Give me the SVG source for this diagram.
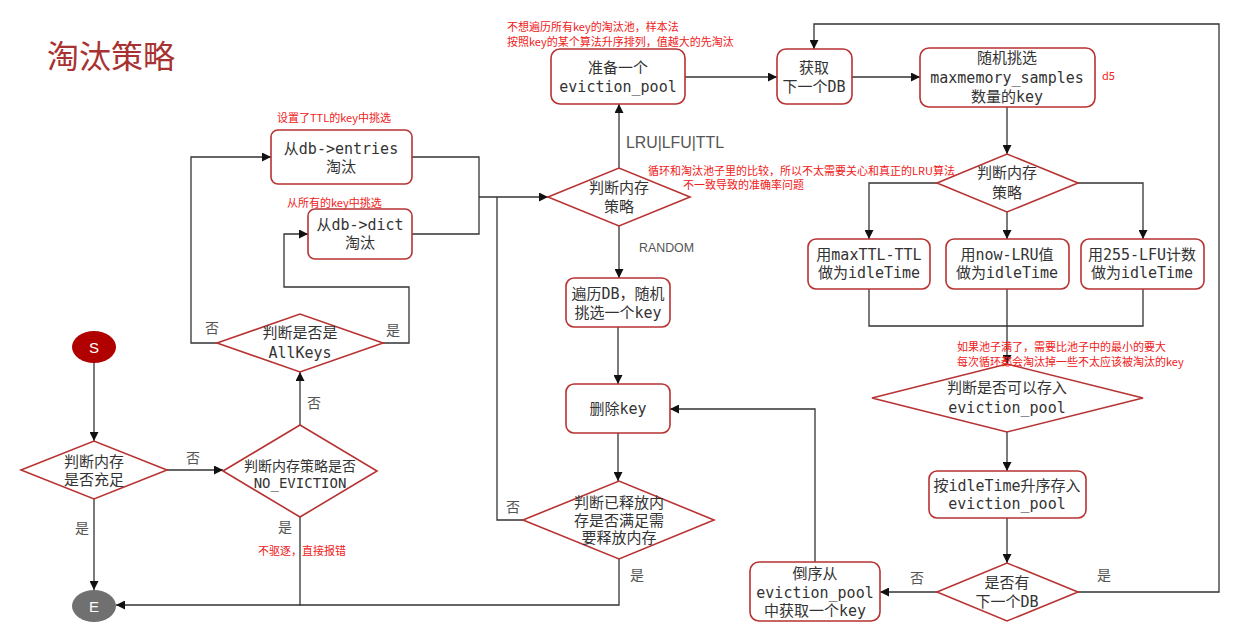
<svg xmlns="http://www.w3.org/2000/svg" width="1248" height="630" viewBox="0 0 1248 630">
<style>
.nd{fill:#fff;stroke:#b83232;stroke-width:1.6}
.t{font-family:"DejaVu Sans Mono","Noto Sans CJK SC",monospace;font-size:15px;fill:#333;text-anchor:middle;dominant-baseline:central}
.ts{font-size:14px}
.ln{fill:none;stroke:#333;stroke-width:1.3}
.lb{font-family:"Noto Sans CJK SC",sans-serif;font-size:14px;fill:#555;text-anchor:middle;dominant-baseline:central}
.el{font-family:"Liberation Sans",sans-serif;fill:#555;dominant-baseline:central}
.an{font-family:"Noto Sans CJK SC",sans-serif;font-size:11px;fill:#f02020}
</style>
<defs>
<marker id="ar" viewBox="0 0 10 10" refX="10" refY="5" markerWidth="9" markerHeight="9" markerUnits="userSpaceOnUse" orient="auto"><path d="M0,0L10,5L0,10z" fill="#111"/></marker>
</defs>
<rect width="1248" height="630" fill="#fff"/>
<text x="47" y="68" font-family="Noto Sans CJK SC,sans-serif" font-size="32" fill="#a83232">淘汰策略</text>

<g id="connectors" class="ln">
<path d="M94,363V441" marker-end="url(#ar)"/>
<path d="M167,470H223" marker-end="url(#ar)"/>
<path d="M94,499V590" marker-end="url(#ar)"/>
<path d="M300,425V372" marker-end="url(#ar)"/>
<path d="M300,517V605H116" marker-end="url(#ar)"/>
<path d="M217,343H191V157H271" marker-end="url(#ar)"/>
<path d="M383,343H409V287H284V234H308" marker-end="url(#ar)"/>
<path d="M412,157H479V234H412"/>
<path d="M479,197H548" marker-end="url(#ar)"/>
<path d="M619,168V104" marker-end="url(#ar)"/>
<path d="M619,226V278" marker-end="url(#ar)"/>
<path d="M618,327V384" marker-end="url(#ar)"/>
<path d="M618,433V481" marker-end="url(#ar)"/>
<path d="M523,520H497V197"/>
<path d="M619,559V605H300"/>
<path d="M685,77H777" marker-end="url(#ar)"/>
<path d="M852,77H920" marker-end="url(#ar)"/>
<path d="M1007,107V154" marker-end="url(#ar)"/>
<path d="M937,183H869V239" marker-end="url(#ar)"/>
<path d="M1078,183H1143V239" marker-end="url(#ar)"/>
<path d="M1007,212V239" marker-end="url(#ar)"/>
<path d="M869,289V326H1143V289"/>
<path d="M1007,289V364" marker-end="url(#ar)"/>
<path d="M1007,432V471" marker-end="url(#ar)"/>
<path d="M1007,518V563" marker-end="url(#ar)"/>
<path d="M937,592H880" marker-end="url(#ar)"/>
<path d="M1078,592H1219V24H814V49" marker-end="url(#ar)"/>
<path d="M815,562V409H670" marker-end="url(#ar)"/>
</g>

<g id="S"><ellipse cx="94" cy="347" rx="22" ry="16" fill="#b00000"/><text x="94" y="347" font-family="Liberation Sans,sans-serif" font-size="15" fill="#fff" text-anchor="middle" dominant-baseline="central">S</text></g>
<g id="E"><ellipse cx="94" cy="606" rx="22" ry="16" fill="#707070"/><text x="94" y="606" font-family="Liberation Sans,sans-serif" font-size="15" fill="#fff" text-anchor="middle" dominant-baseline="central">E</text></g>

<g id="d-mem-enough"><path class="nd" d="M21,470L94,441L167,470L94,499Z"/><text class="t" x="94" y="462">判断内存</text><text class="t" x="94" y="480">是否充足</text></g>
<g id="d-noevict"><path class="nd" d="M223,471L300,425L377,471L300,517Z"/><text class="t ts" x="300" y="466">判断内存策略是否</text><text class="t ts" x="300" y="483">NO_EVICTION</text></g>
<g id="d-allkeys"><path class="nd" d="M217,343L300,314L383,343L300,372Z"/><text class="t" x="300" y="333">判断是否是</text><text class="t" x="300" y="353">AllKeys</text></g>
<g id="b-entries"><rect class="nd" x="271" y="130" width="141" height="54" rx="7"/><text class="t" x="341" y="149">从db-&gt;entries</text><text class="t" x="341" y="167">淘汰</text></g>
<g id="b-dict"><rect class="nd" x="308" y="209" width="104" height="50" rx="7"/><text class="t" x="360" y="225">从db-&gt;dict</text><text class="t" x="360" y="243">淘汰</text></g>
<g id="d-policy"><path class="nd" d="M548,197L619,168L690,197L619,226Z"/><text class="t" x="619" y="188">判断内存</text><text class="t" x="619" y="207">策略</text></g>
<g id="b-pool"><rect class="nd" x="551" y="49" width="134" height="55" rx="9"/><text class="t" x="618" y="68">准备一个</text><text class="t" x="618" y="87">eviction_pool</text></g>
<g id="b-nextdb"><rect class="nd" x="777" y="49" width="75" height="55" rx="9"/><text class="t" x="814" y="68">获取</text><text class="t" x="814" y="87">下一个DB</text></g>
<g id="b-samples"><rect class="nd" x="920" y="48" width="175" height="59" rx="9"/><text class="t" x="1007" y="58">随机挑选</text><text class="t" x="1007" y="78">maxmemory_samples</text><text class="t" x="1007" y="97">数量的key</text></g>
<g id="d-policy2"><path class="nd" d="M937,183L1007,154L1078,183L1007,212Z"/><text class="t" x="1007" y="173">判断内存</text><text class="t" x="1007" y="193">策略</text></g>
<g id="b-ttl"><rect class="nd" x="808" y="239" width="122" height="50" rx="8"/><text class="t" x="869" y="255">用maxTTL-TTL</text><text class="t" x="869" y="273">做为idleTime</text></g>
<g id="b-lru"><rect class="nd" x="946" y="239" width="123" height="50" rx="8"/><text class="t" x="1007" y="255">用now-LRU值</text><text class="t" x="1007" y="273">做为idleTime</text></g>
<g id="b-lfu"><rect class="nd" x="1081" y="239" width="123" height="50" rx="8"/><text class="t" x="1142" y="255">用255-LFU计数</text><text class="t" x="1142" y="273">做为idleTime</text></g>
<g id="d-canstore"><path class="nd" d="M872,398L1007,364L1143,398L1007,432Z"/><text class="t" x="1007" y="388">判断是否可以存入</text><text class="t" x="1007" y="408">eviction_pool</text></g>
<g id="b-store"><rect class="nd" x="929" y="471" width="157" height="47" rx="8"/><text class="t" x="1007" y="486">按idleTime升序存入</text><text class="t" x="1007" y="504">eviction_pool</text></g>
<g id="d-hasnext"><path class="nd" d="M937,592L1007,563L1078,592L1007,621Z"/><text class="t" x="1007" y="583">是否有</text><text class="t" x="1007" y="602">下一个DB</text></g>
<g id="b-reverse"><rect class="nd" x="750" y="562" width="130" height="59" rx="9"/><text class="t" x="815" y="574">倒序从</text><text class="t" x="815" y="593">eviction_pool</text><text class="t" x="815" y="611">中获取一个key</text></g>
<g id="b-random"><rect class="nd" x="566" y="278" width="104" height="49" rx="8"/><text class="t" x="618" y="294">遍历DB，随机</text><text class="t" x="618" y="313">挑选一个key</text></g>
<g id="b-delete"><rect class="nd" x="566" y="384" width="104" height="49" rx="8"/><text class="t" x="618" y="409">删除key</text></g>
<g id="d-freed"><path class="nd" d="M523,520L619,481L714,520L619,559Z"/><text class="t" x="619" y="503">判断已释放内</text><text class="t" x="619" y="521">存是否满足需</text><text class="t" x="619" y="538">要释放内存</text></g>

<g id="edge-labels">
<text class="lb" x="212" y="327">否</text>
<text class="lb" x="393" y="329">是</text>
<text class="lb" x="314" y="402">否</text>
<text class="lb" x="193" y="457">否</text>
<text class="lb" x="82" y="527">是</text>
<text class="lb" x="285" y="526">是</text>
<text class="lb" x="513" y="506">否</text>
<text class="lb" x="637" y="574">是</text>
<text class="lb" x="917" y="577">否</text>
<text class="lb" x="1104" y="574">是</text>
<text class="el" x="626" y="142" font-size="16" textLength="98" lengthAdjust="spacingAndGlyphs">LRU|LFU|TTL</text>
<text class="el" x="639" y="247" font-size="13" textLength="55" lengthAdjust="spacingAndGlyphs">RANDOM</text>
</g>

<g id="annotations">
<text class="an" x="507" y="31">不想遍历所有key的淘汰池，样本法</text>
<text class="an" x="507" y="46">按照key的某个算法升序排列，值越大的先淘汰</text>
<text class="an" x="277" y="122">设置了TTL的key中挑选</text>
<text class="an" x="287" y="207">从所有的key中挑选</text>
<text class="an" x="648" y="175">循环和淘汰池子里的比较，所以不太需要关心和真正的LRU算法</text>
<text class="an" x="683" y="189">不一致导致的准确率问题</text>
<text class="an" x="1102" y="80">d5</text>
<text class="an" x="957" y="351">如果池子满了，需要比池子中的最小的要大</text>
<text class="an" x="957" y="366">每次循环都会淘汰掉一些不太应该被淘汰的key</text>
<text class="an" x="258" y="555">不驱逐，直接报错</text>
</g>
</svg>
